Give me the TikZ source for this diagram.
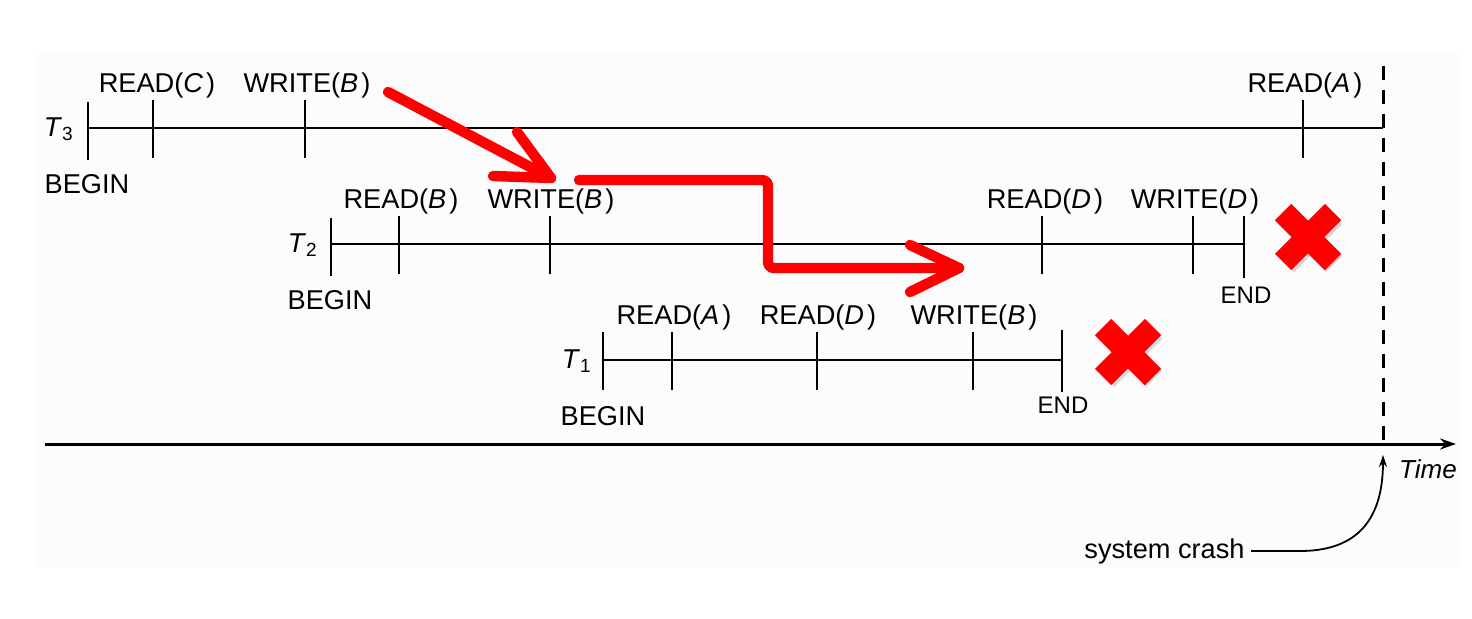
\documentclass[tikz,border=0pt]{standalone}
\usepackage{fontspec}
\setmainfont{Liberation Sans}
\usetikzlibrary{arrows.meta}
\definecolor{bgc}{RGB}{252,252,252}
\definecolor{xred}{RGB}{255,0,0}
\begin{document}
\begin{tikzpicture}[x=0.5pt,y=-0.5pt,
  tline/.style={line width=1.4pt},
  lbl/.style={anchor=base,inner sep=0pt,font=\fontsize{13.6}{15}\selectfont},
  endlbl/.style={anchor=base,inner sep=0pt,font=\fontsize{12}{14}\selectfont},
  tname/.style={anchor=base east,inner sep=0pt,font=\fontsize{13.6}{15}\selectfont},
  redline/.style={draw=xred,line width=5.2pt,line cap=round,line join=round},
  crossarm/.style={draw=xred,line width=11.5pt},
  shadowarm/.style={draw=black!15,line width=11.5pt}
]
\useasboundingbox (0,0) rectangle (1472,618);
\fill[bgc] (36,52) rectangle (1460,567);

% ---------- T3 ----------
\coordinate (t3s) at (88,128);
\coordinate (t3e) at (1383,128);
\draw[tline] (t3s) -- (t3e);
\draw[tline] (88,102) -- (88,160);
\draw[tline] (153,100) -- (153,158);
\draw[tline] (305,100) -- (305,158);
\draw[tline] (1303,100) -- (1303,158);
\node[tname] (T3) at (74,136) {\textit{T}\textsubscript{3}};
\node[lbl] (t3r1) at (157,92) {READ(\textit{C}\kern1.5pt)};
\node[lbl] (t3w1) at (307,92) {WRITE(\textit{B}\kern1.5pt)};
\node[lbl] (t3r2) at (1305,92) {READ(\textit{A}\kern1.5pt)};
\node[lbl] (t3b) at (87,193) {BEGIN};

% ---------- T2 ----------
\coordinate (t2s) at (331,244);
\coordinate (t2e) at (1244,244);
\draw[tline] (t2s) -- (t2e);
\draw[tline] (331,218) -- (331,276);
\draw[tline] (399,216) -- (399,274);
\draw[tline] (550,216) -- (550,274);
\draw[tline] (1042,216) -- (1042,274);
\draw[tline] (1193,216) -- (1193,274);
\draw[tline] (1244,216) -- (1244,278);
\node[tname] (T2) at (318,252) {\textit{T}\textsubscript{2}};
\node[lbl] (t2r1) at (401,208) {READ(\textit{B}\kern1.5pt)};
\node[lbl] (t2w1) at (551,208) {WRITE(\textit{B}\kern1.5pt)};
\node[lbl] (t2r2) at (1045,208) {READ(\textit{D}\kern1.5pt)};
\node[lbl] (t2w2) at (1195,208) {WRITE(\textit{D}\kern1.5pt)};
\node[lbl] (t2b) at (330,309) {BEGIN};
\node[endlbl] (t2end) at (1246,303) {END};

% ---------- T1 ----------
\coordinate (t1s) at (603,360);
\coordinate (t1e) at (1062,360);
\draw[tline] (t1s) -- (t1e);
\draw[tline] (603,332) -- (603,390);
\draw[tline] (672,332) -- (672,390);
\draw[tline] (817,332) -- (817,390);
\draw[tline] (973,332) -- (973,390);
\draw[tline] (1062,330) -- (1062,392);
\node[tname] (T1) at (592,368) {\textit{T}\textsubscript{1}};
\node[lbl] (t1r1) at (674,324) {READ(\textit{A}\kern1.5pt)};
\node[lbl] (t1r2) at (818,324) {READ(\textit{D}\kern1.5pt)};
\node[lbl] (t1w1) at (974,324) {WRITE(\textit{B}\kern1.5pt)};
\node[lbl] (t1b) at (603,425) {BEGIN};
\node[endlbl] (t1end) at (1063,413) {END};

% ---------- time axis and crash ----------
\coordinate (ax0) at (45,444);
\coordinate (ax1) at (1456,444);
\draw[line width=1.5pt,-{Stealth[length=8pt,width=5.5pt]}] (ax0) -- (ax1);
\coordinate (crtop) at (1383,66);
\coordinate (crbot) at (1383,444);
\draw[line width=1.5pt,dash pattern=on 7pt off 5pt] (crtop) -- (crbot);
\node[anchor=base,inner sep=0pt,font=\fontsize{13}{15}\selectfont] (time) at (1428,478) {\textit{Time}};
\node[lbl,anchor=base east] (crash) at (1245,558) {system crash};
\coordinate (crtip) at (1383,455);
\draw[line width=0.9pt,-{Stealth[length=6pt,width=4pt]}]
  ([xshift=3pt]crash.east |- 0,551) -- (1300,551) .. controls (1352,551) and (1383,525) .. (crtip);

% ---------- red arrows ----------
\coordinate (a1s) at (388,92);
\coordinate (a1t) at (551,178);
\draw[redline] (a1s) -- (a1t);
\draw[redline] (517,132) -- (a1t) -- (493,176);

\coordinate (a2s) at (579,180);
\coordinate (a2t) at (959,268);
\draw[redline,rounded corners=3pt] (a2s) -- (768,180) -- (768,268) -- (a2t);
\draw[redline] (910,245) -- (a2t) -- (910,292);

% ---------- crosses ----------
\coordinate (x1) at (1308,237);
\coordinate (x2) at (1128,352);
\foreach \c in {x1,x2}{
  \draw[shadowarm] ([shift={(-24,-24)}]\c) ++(2,3) -- ++(48,48);
  \draw[shadowarm] ([shift={(24,-24)}]\c) ++(2,3) -- ++(-48,48);
  \draw[crossarm] ([shift={(-25,-25)}]\c) -- ([shift={(25,25)}]\c);
  \draw[crossarm] ([shift={(25,-25)}]\c) -- ([shift={(-25,25)}]\c);
}
\end{tikzpicture}
\end{document}
